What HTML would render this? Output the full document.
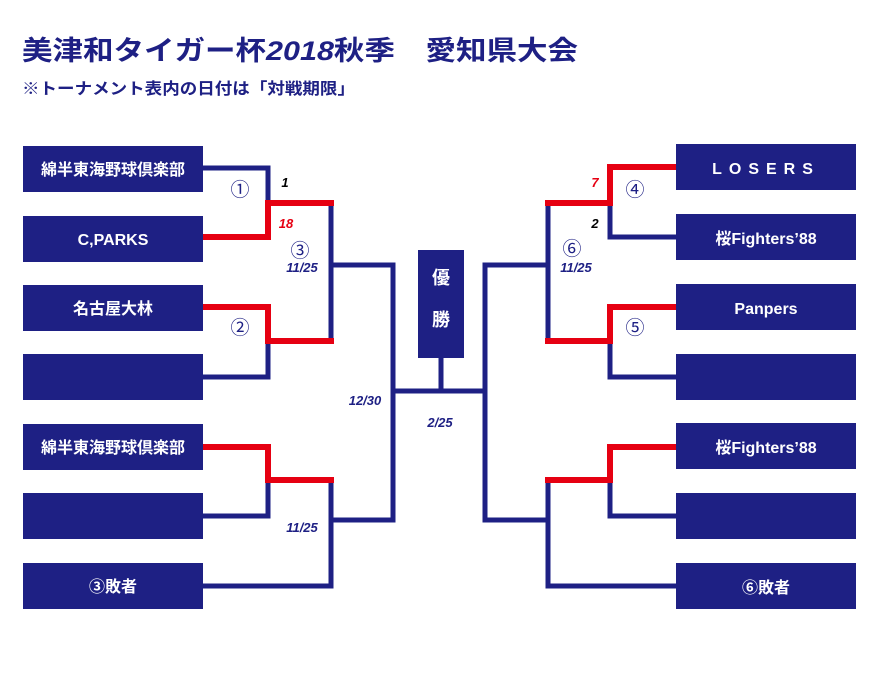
<!DOCTYPE html>
<html><head><meta charset="utf-8"><style>
body{margin:0;background:#fff;}
svg{display:block;font-family:"Liberation Sans","Noto Sans CJK JP",sans-serif;}
.b{fill:#1e2084;}
.t{fill:#fff;font-weight:bold;font-size:16px;text-anchor:middle;}
.n{stroke:#1e2084;stroke-width:5;fill:none;}
.r{stroke:#e60012;stroke-width:6;fill:none;}
.c{fill:#1e2084;font-size:19px;text-anchor:middle;}
.d{fill:#1e2084;font-size:13px;font-style:italic;font-weight:bold;text-anchor:middle;}
</style></head><body>
<svg width="880" height="675" viewBox="0 0 880 675">
<text x="22" y="60" textLength="556" lengthAdjust="spacingAndGlyphs" style="fill:#1e2084;font-weight:bold;font-size:27px;">美津和タイガー杯<tspan font-style="italic">2018</tspan>秋季　愛知県大会</text>
<text x="22" y="94" textLength="333" lengthAdjust="spacingAndGlyphs" style="fill:#1e2084;font-weight:bold;font-size:16px;">※トーナメント表内の日付は「対戦期限」</text>

<!-- left boxes -->
<rect class="b" x="23" y="146" width="180" height="46"/><text class="t" x="113" y="175">綿半東海野球倶楽部</text>
<rect class="b" x="23" y="216" width="180" height="46"/><text class="t" x="113" y="245">C,PARKS</text>
<rect class="b" x="23" y="285" width="180" height="46"/><text class="t" x="113" y="314">名古屋大林</text>
<rect class="b" x="23" y="354" width="180" height="46"/>
<rect class="b" x="23" y="424" width="180" height="46"/><text class="t" x="113" y="453">綿半東海野球倶楽部</text>
<rect class="b" x="23" y="493" width="180" height="46"/>
<rect class="b" x="23" y="563" width="180" height="46"/><text class="t" x="113" y="592">③敗者</text>
<!-- right boxes -->
<rect class="b" x="676" y="144" width="180" height="46"/><text class="t" x="766" y="174" style="letter-spacing:7px">LOSERS</text>
<rect class="b" x="676" y="214" width="180" height="46"/><text class="t" x="766" y="244">桜Fighters’88</text>
<rect class="b" x="676" y="284" width="180" height="46"/><text class="t" x="766" y="314">Panpers</text>
<rect class="b" x="676" y="354" width="180" height="46"/>
<rect class="b" x="676" y="423" width="180" height="46"/><text class="t" x="766" y="453">桜Fighters’88</text>
<rect class="b" x="676" y="493" width="180" height="46"/>
<rect class="b" x="676" y="563" width="180" height="46"/><text class="t" x="766" y="593">⑥敗者</text>
<!-- center -->
<rect class="b" x="418" y="250" width="46" height="108"/>
<text class="t" x="441" y="284" style="font-size:18px">優</text>
<text class="t" x="441" y="326" style="font-size:18px">勝</text>

<!-- left lines -->
<polyline class="n" points="203,168 268,168 268,203"/>
<polyline class="n" points="331,203 331,341"/>
<polyline class="n" points="203,377 268,377 268,341"/>
<polyline class="r" points="203,237 268,237 268,203 334,203"/>
<polyline class="r" points="203,307 268,307 268,341 334,341"/>
<polyline class="n" points="203,516 268,516 268,480"/>
<polyline class="n" points="331,480 331,586 203,586"/>
<polyline class="r" points="203,447 268,447 268,480 334,480"/>
<polyline class="n" points="331,265 393,265 393,520 331,520"/>
<line class="n" x1="393" y1="391" x2="485" y2="391"/>
<line class="n" x1="441" y1="358" x2="441" y2="391"/>
<!-- right lines -->
<polyline class="n" points="547,265 485,265 485,520 548,520"/>
<polyline class="n" points="676,237 610,237 610,203"/>
<polyline class="n" points="548,203 548,341"/>
<polyline class="n" points="676,377 610,377 610,341"/>
<polyline class="r" points="676,167 610,167 610,203 545,203"/>
<polyline class="r" points="676,307 610,307 610,341 545,341"/>
<polyline class="n" points="676,516 610,516 610,480"/>
<polyline class="n" points="548,480 548,586 676,586"/>
<polyline class="r" points="676,447 610,447 610,480 545,480"/>

<!-- labels -->
<text class="c" x="240" y="196">①</text>
<text class="c" x="240" y="334">②</text>
<text class="c" x="300" y="257">③</text>
<text class="d" x="302" y="272">11/25</text>
<text class="d" x="285" y="187" style="fill:#000">1</text>
<text class="d" x="286" y="228" style="fill:#e60012">18</text>
<text class="d" x="365" y="405">12/30</text>
<text class="d" x="440" y="427">2/25</text>
<text class="d" x="302" y="532">11/25</text>
<text class="d" x="595" y="187" style="fill:#e60012">7</text>
<text class="c" x="635" y="196">④</text>
<text class="d" x="595" y="228" style="fill:#000">2</text>
<text class="c" x="572" y="255">⑥</text>
<text class="d" x="576" y="272">11/25</text>
<text class="c" x="635" y="334">⑤</text>
</svg>
</body></html>
